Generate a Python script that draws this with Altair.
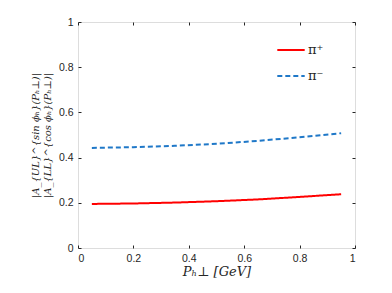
import altair as alt
import pandas as pd

x_vals = [0.05, 0.2, 0.35, 0.5, 0.65, 0.8, 0.95]
pi_plus = [0.195, 0.197, 0.201, 0.207, 0.215, 0.226, 0.238]
pi_minus = [0.443, 0.446, 0.452, 0.461, 0.474, 0.490, 0.508]
series_names = ["π⁺", "π⁻"]

rows = []
for name, vals in zip(series_names, [pi_plus, pi_minus]):
    for xv, yv in zip(x_vals, vals):
        rows.append({"x": xv, "y": yv, "series": name})
df = pd.DataFrame(rows)

tick_vals_x = [0, 0.2, 0.4, 0.6, 0.8, 1]
tick_vals_y = [0, 0.2, 0.4, 0.6, 0.8, 1]

axis_common = dict(
    domain=False, grid=False, tickSize=3, offset=-3, labelPadding=5,
    tickColor="#262626", labelColor="#262626", labelFont="Liberation Sans",
    labelFontSize=10.5, titleColor="#262626",
)

base = alt.Chart(df)

lines = base.mark_line(strokeWidth=2).encode(
    x=alt.X("x:Q", scale=alt.Scale(domain=[0, 1]),
            axis=alt.Axis(values=tick_vals_x, format="~g",
                          title="Pₕ⊥  [GeV]", titleFont="DejaVu Serif",
                          titleFontStyle="italic", titleFontWeight="normal",
                          titleFontSize=13, titlePadding=2, **axis_common)),
    y=alt.Y("y:Q", scale=alt.Scale(domain=[0, 1]),
            axis=alt.Axis(values=tick_vals_y, format="~g",
                          title=["|A_{UL}^{sin ϕₕ}(Pₕ⊥)|", "|A_{LL}^{cos ϕₕ}(Pₕ⊥)|"],
                          titleFont="DejaVu Serif", titleFontStyle="italic",
                          titleFontWeight="normal", titleFontSize=10,
                          titlePadding=6, **axis_common)),
    color=alt.Color("series:N", scale=alt.Scale(domain=series_names, range=["#ff0000", "#1f78c8"]),
                    legend=alt.Legend(title=None, orient="none", legendX=198, legendY=13,
                                      symbolType="stroke", symbolSize=750, symbolStrokeWidth=2,
                                      labelFont="DejaVu Serif", labelFontSize=13,
                                      labelColor="#262626", rowPadding=4, labelOffset=2)),
    strokeDash=alt.StrokeDash("series:N", scale=alt.Scale(domain=series_names, range=[[1, 0], [5, 3]]),
                              legend=None),
)

# top/right mirrored ticks
top_right = base.mark_point(opacity=0).encode(
    x=alt.X("x:Q", scale=alt.Scale(domain=[0, 1]),
            axis=alt.Axis(orient="top", values=tick_vals_x, labels=False, title=None, **axis_common)),
    y=alt.Y("y:Q", scale=alt.Scale(domain=[0, 1]),
            axis=alt.Axis(orient="right", values=tick_vals_y, labels=False, title=None, **axis_common)),
)

chart = alt.layer(lines, top_right).resolve_axis(x="independent", y="independent").properties(
    width=277, height=226,
    autosize=alt.AutoSizeParams(type="none"),
    padding={"left": 70, "top": 14, "right": 29, "bottom": 37},
).configure_view(stroke="#262626", strokeWidth=1).configure(background="white")

chart.save("out.html", embed_options={"renderer": "svg", "actions": False})
